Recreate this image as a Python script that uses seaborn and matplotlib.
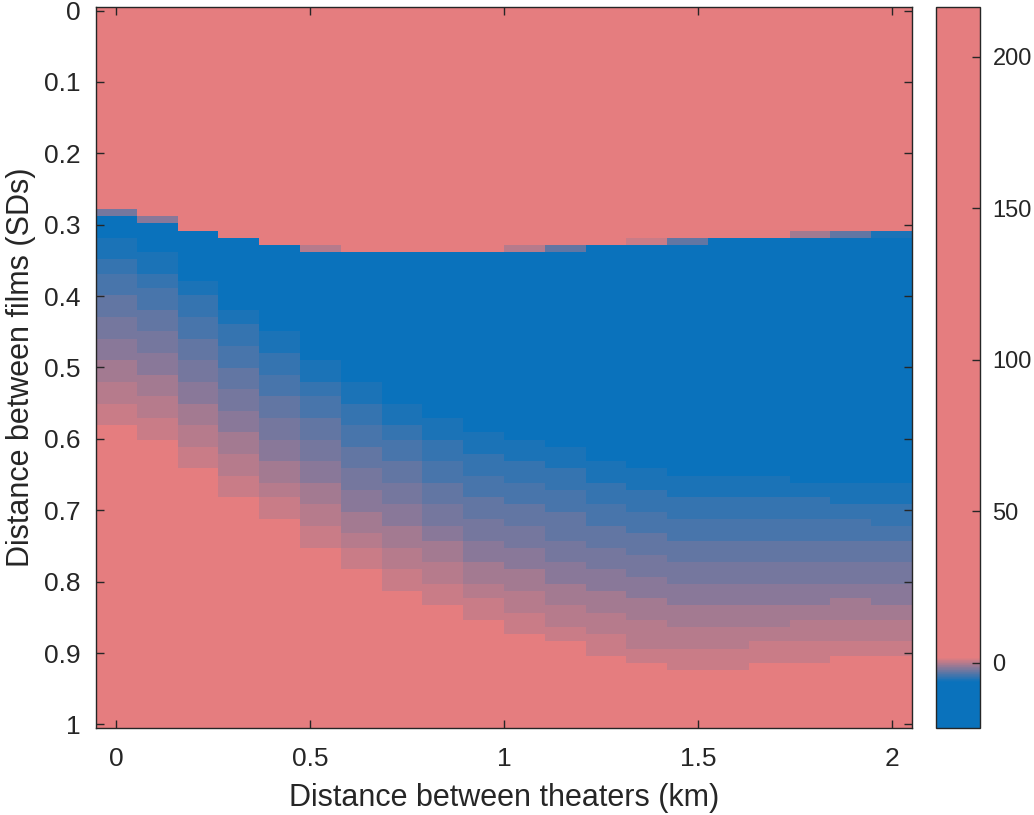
import matplotlib
matplotlib.use("Agg")
import matplotlib.pyplot as plt
import numpy as np
import pandas as pd
import seaborn as sns
from matplotlib.colors import LinearSegmentedColormap

# grid: 100 rows (film distance 0..1), 20 columns (theater distance 0..2 km)
N_ROWS = 100
N_COLS = 20
X_MAX = 2.0
Y_MAX = 1.0

# cell values used in the picture
BLUE_VAL = -20.0
PINK_TOP_VAL = 215.0
PINK_LOW_VAL = 10.0
# blue -> pink transition levels L1..L9 (index 0 unused)
LEVELS = [BLUE_VAL, -5.5, -4.7, -3.9, -3.1, -2.35, -1.55, -0.75, 0.0, 0.8]

# rows of the upper pink region, per column
TOP_PINK = [28, 29, 31, 32, 33, 33, 34, 34, 34, 34,
            33, 33, 33, 32, 32, 32, 32, 31, 31, 31]
# level of the single transition row under the upper pink region (0 = none)
CAP_LEVEL = [5, 6, 0, 0, 0, 8, 0, 0, 0, 0,
             8, 4, 0, 9, 4, 0, 0, 7, 4, 1]
# first row of levels L1..L9 and of the lower pink region, per column
BAND_START = [
    [32, 35, 37, 40, 43, 46, 49, 52, 55, 58],
    [34, 37, 39, 42, 45, 48, 51, 54, 57, 60],
    [38, 40, 43, 46, 49, 52, 55, 58, 61, 64],
    [42, 44, 47, 50, 53, 56, 59, 62, 65, 68],
    [45, 48, 51, 54, 57, 60, 63, 66, 68, 71],
    [49, 52, 54, 57, 60, 63, 66, 69, 72, 75],
    [52, 55, 58, 61, 64, 67, 70, 73, 75, 78],
    [55, 58, 60, 63, 66, 69, 72, 75, 78, 81],
    [57, 60, 63, 66, 69, 72, 74, 77, 80, 83],
    [59, 62, 65, 68, 71, 74, 77, 80, 82, 85],
    [60, 63, 66, 69, 72, 75, 78, 81, 84, 87],
    [61, 64, 67, 70, 74, 77, 80, 83, 86, 88],
    [63, 66, 69, 72, 75, 78, 81, 84, 87, 90],
    [64, 67, 70, 73, 76, 79, 82, 85, 89, 91],
    [65, 68, 71, 74, 77, 80, 83, 86, 89, 92],
    [65, 68, 71, 74, 77, 80, 83, 86, 89, 92],
    [65, 68, 71, 74, 77, 80, 83, 86, 88, 91],
    [66, 68, 71, 74, 77, 80, 83, 85, 88, 91],
    [66, 69, 71, 74, 77, 80, 82, 85, 88, 90],
    [66, 69, 72, 74, 77, 80, 83, 85, 88, 90],
]

X_TICKS = [0, 0.5, 1, 1.5, 2]
X_TICK_LABELS = ["0", "0.5", "1", "1.5", "2"]
Y_TICKS = [0, 0.1, 0.2, 0.3, 0.4, 0.5, 0.6, 0.7, 0.8, 0.9, 1]
Y_TICK_LABELS = ["0", "0.1", "0.2", "0.3", "0.4", "0.5", "0.6", "0.7", "0.8", "0.9", "1"]
CBAR_TICKS = [0, 50, 100, 150, 200]

VMIN, VMAX = -21.5, 216.5
GRAD_LO, GRAD_HI = -6.3, 1.6
BLUE = "#0A72BC"
PINK = "#E57D7F"
INK = "#262626"


def build_grid() -> np.ndarray:
    grid = np.full((N_ROWS, N_COLS), PINK_LOW_VAL)
    for c in range(N_COLS):
        start = TOP_PINK[c]
        grid[:start, c] = PINK_TOP_VAL
        if CAP_LEVEL[c]:
            grid[start, c] = LEVELS[CAP_LEVEL[c]]
            start += 1
        b = BAND_START[c]
        grid[start:b[0], c] = BLUE_VAL
        for k in range(9):
            grid[b[k]:b[k + 1], c] = LEVELS[k + 1]
        grid[b[9]:, c] = PINK_LOW_VAL
    return grid


def main() -> None:
    plt.rcParams["font.family"] = ["Liberation Sans", "DejaVu Sans"]

    f0 = (GRAD_LO - VMIN) / (VMAX - VMIN)
    f1 = (GRAD_HI - VMIN) / (VMAX - VMIN)
    cmap = LinearSegmentedColormap.from_list(
        "bluepink", [(0, BLUE), (f0, BLUE), (f1, PINK), (1, PINK)], N=1024
    )

    df = pd.DataFrame(build_grid())

    fig = plt.figure(figsize=(10.34, 8.15), dpi=100)
    ax = fig.add_axes([96 / 1034, 1 - 728 / 815, 816 / 1034, 721 / 815])
    cax = fig.add_axes([936 / 1034, 1 - 728 / 815, 44 / 1034, 721 / 815])

    sns.heatmap(df, cmap=cmap, vmin=VMIN, vmax=VMAX, ax=ax, cbar_ax=cax,
                xticklabels=False, yticklabels=False)

    # data coords -> cell coords
    dx = X_MAX / (N_COLS - 1)
    dy = Y_MAX / (N_ROWS - 1)
    ax.set_xticks([v / dx + 0.5 for v in X_TICKS])
    ax.set_xticklabels(X_TICK_LABELS)
    ax.set_yticks([v / dy + 0.5 for v in Y_TICKS])
    ax.set_yticklabels(Y_TICK_LABELS, rotation=0)

    for s in ax.spines.values():
        s.set_visible(True)
        s.set_color(INK)
        s.set_linewidth(1.0)
    ax.tick_params(direction="in", length=6, width=1.0, top=True, right=True,
                   color=INK, labelcolor=INK, labelsize=19)
    ax.tick_params(axis="x", pad=14)
    ax.tick_params(axis="y", pad=11)
    ax.set_xlabel("Distance between theaters (km)", fontsize=22, color=INK, labelpad=8)
    ax.set_ylabel("Distance between films (SDs)", fontsize=22, color=INK, labelpad=6)

    cb = ax.collections[0].colorbar
    cb.set_ticks(CBAR_TICKS)
    cb.outline.set_visible(True)
    cb.outline.set_edgecolor(INK)
    cb.outline.set_linewidth(1.0)
    cax.tick_params(direction="in", length=6, width=1.0, color=INK,
                    labelcolor=INK, labelsize=17, pad=9)

    fig.savefig("out.png", dpi=100)
    plt.close(fig)


if __name__ == "__main__":
    main()
